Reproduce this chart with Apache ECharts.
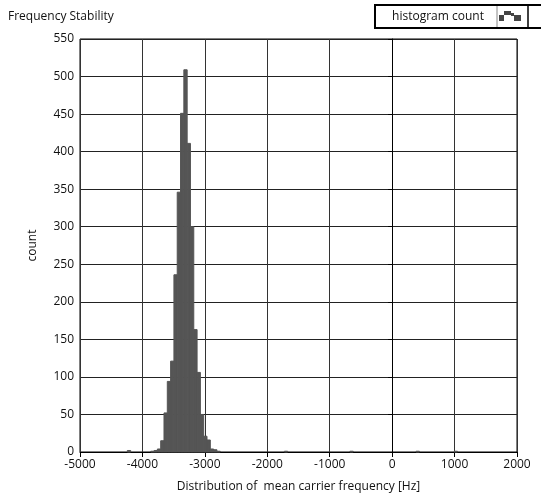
<!DOCTYPE html>
<html>
<head>
<meta charset="utf-8">
<script src="https://cdn.jsdelivr.net/npm/echarts@6/dist/echarts.min.js"></script>
<style>
html,body{margin:0;padding:0;background:#fff;}
#c{width:541px;height:501px;}
</style>
</head>
<body>
<div id="c"></div>
<script>
// Histogram bin centers (Hz) and counts
const binWidth = 53;
const binCenters = [-4215, -3840, -3787, -3734, -3681, -3628, -3575, -3522, -3469, -3416, -3363,
  -3310, -3257, -3204, -3151, -3098, -3045, -2992, -2939, -2886, -2833, -2780,
  -1700, -650, 410, 1020];
const counts = [2, 1, 2, 4, 15, 52, 94, 121, 236, 346, 451,
  509, 411, 300, 163, 106, 50, 21, 16, 4, 3, 1,
  1, 1, 1, 1];
const xTicks = { min: -5000, max: 2000, interval: 1000 };
const yTicks = { min: 0, max: 550, interval: 50 };

const data = binCenters.map((c, i) => [c - binWidth / 2, c + binWidth / 2, counts[i]]);

const font = '"Open Sans", "DejaVu Sans", sans-serif';
const chart = echarts.init(document.getElementById('c'), null, { renderer: 'canvas' });
chart.setOption({
  backgroundColor: '#ffffff',
  animation: false,
  title: {
    text: 'Frequency Stability',
    left: 3, top: 6,
    textStyle: { fontSize: 12, fontWeight: 'normal', color: '#111', fontFamily: font }
  },
  grid: { left: 80, right: 24, top: 39, bottom: 49, show: true, borderColor: '#000', borderWidth: 1, backgroundColor: '#fff' },
  xAxis: {
    type: 'value',
    min: xTicks.min, max: xTicks.max, interval: xTicks.interval,
    name: 'Distribution of  mean carrier frequency [Hz]',
    nameLocation: 'middle', nameGap: 29,
    nameTextStyle: { fontSize: 12, color: '#111', fontFamily: font },
    axisLine: { show: true, lineStyle: { color: '#000', width: 1 } },
    axisTick: { show: true, inside: false, length: 5, lineStyle: { color: '#000' } },
    axisLabel: { fontSize: 12, color: '#111', margin: 7, fontFamily: font, formatter: v => String(v) },
    splitLine: { show: true, lineStyle: { color: '#333', width: 1 } }
  },
  yAxis: {
    type: 'value',
    min: yTicks.min, max: yTicks.max, interval: yTicks.interval,
    name: 'count', nameLocation: 'middle', nameGap: 41, nameRotate: 90,
    nameTextStyle: { fontSize: 12, color: '#111', fontFamily: font },
    axisLine: { show: true, lineStyle: { color: '#000', width: 1 } },
    axisTick: { show: true, inside: false, length: 4, lineStyle: { color: '#000' } },
    axisLabel: { fontSize: 12, color: '#111', margin: 6, fontFamily: font, formatter: v => String(v) },
    splitLine: { show: true, lineStyle: { color: '#222', width: 1 } }
  },
  series: [{
    type: 'custom',
    name: 'histogram count',
    data: data,
    encode: { x: [0, 1], y: 2 },
    renderItem: function (params, api) {
      const p0 = api.coord([api.value(0), api.value(2)]);
      const p1 = api.coord([api.value(1), 0]);
      return {
        type: 'rect',
        shape: { x: p0[0], y: p0[1], width: p1[0] - p0[0], height: p1[1] - p0[1] },
        style: { fill: '#555555', stroke: '#555555', lineWidth: 1 }
      };
    }
  }],
  graphic: [
    { type: 'rect', shape: { x: 375, y: 5, width: 170, height: 23 }, style: { fill: '#fff', stroke: '#000', lineWidth: 2 } },
    { type: 'text', x: 438, y: 17, style: { text: 'histogram count', fontSize: 12, fill: '#111', fontFamily: font, align: 'center', verticalAlign: 'middle' } },
    { type: 'line', shape: { x1: 497, y1: 6, x2: 497, y2: 27 }, style: { stroke: '#888', lineWidth: 1 } },
    { type: 'line', shape: { x1: 528, y1: 6, x2: 528, y2: 27 }, style: { stroke: '#000', lineWidth: 1.5 } },
    { type: 'rect', shape: { x: 499, y: 15, width: 5, height: 6 }, style: { fill: '#444' } },
    { type: 'rect', shape: { x: 504, y: 11, width: 7, height: 4 }, style: { fill: '#444' } },
    { type: 'rect', shape: { x: 511, y: 13, width: 3, height: 3 }, style: { fill: '#444' } },
    { type: 'rect', shape: { x: 514, y: 15, width: 7, height: 6 }, style: { fill: '#444' } }
  ]
});
</script>
</body>
</html>
